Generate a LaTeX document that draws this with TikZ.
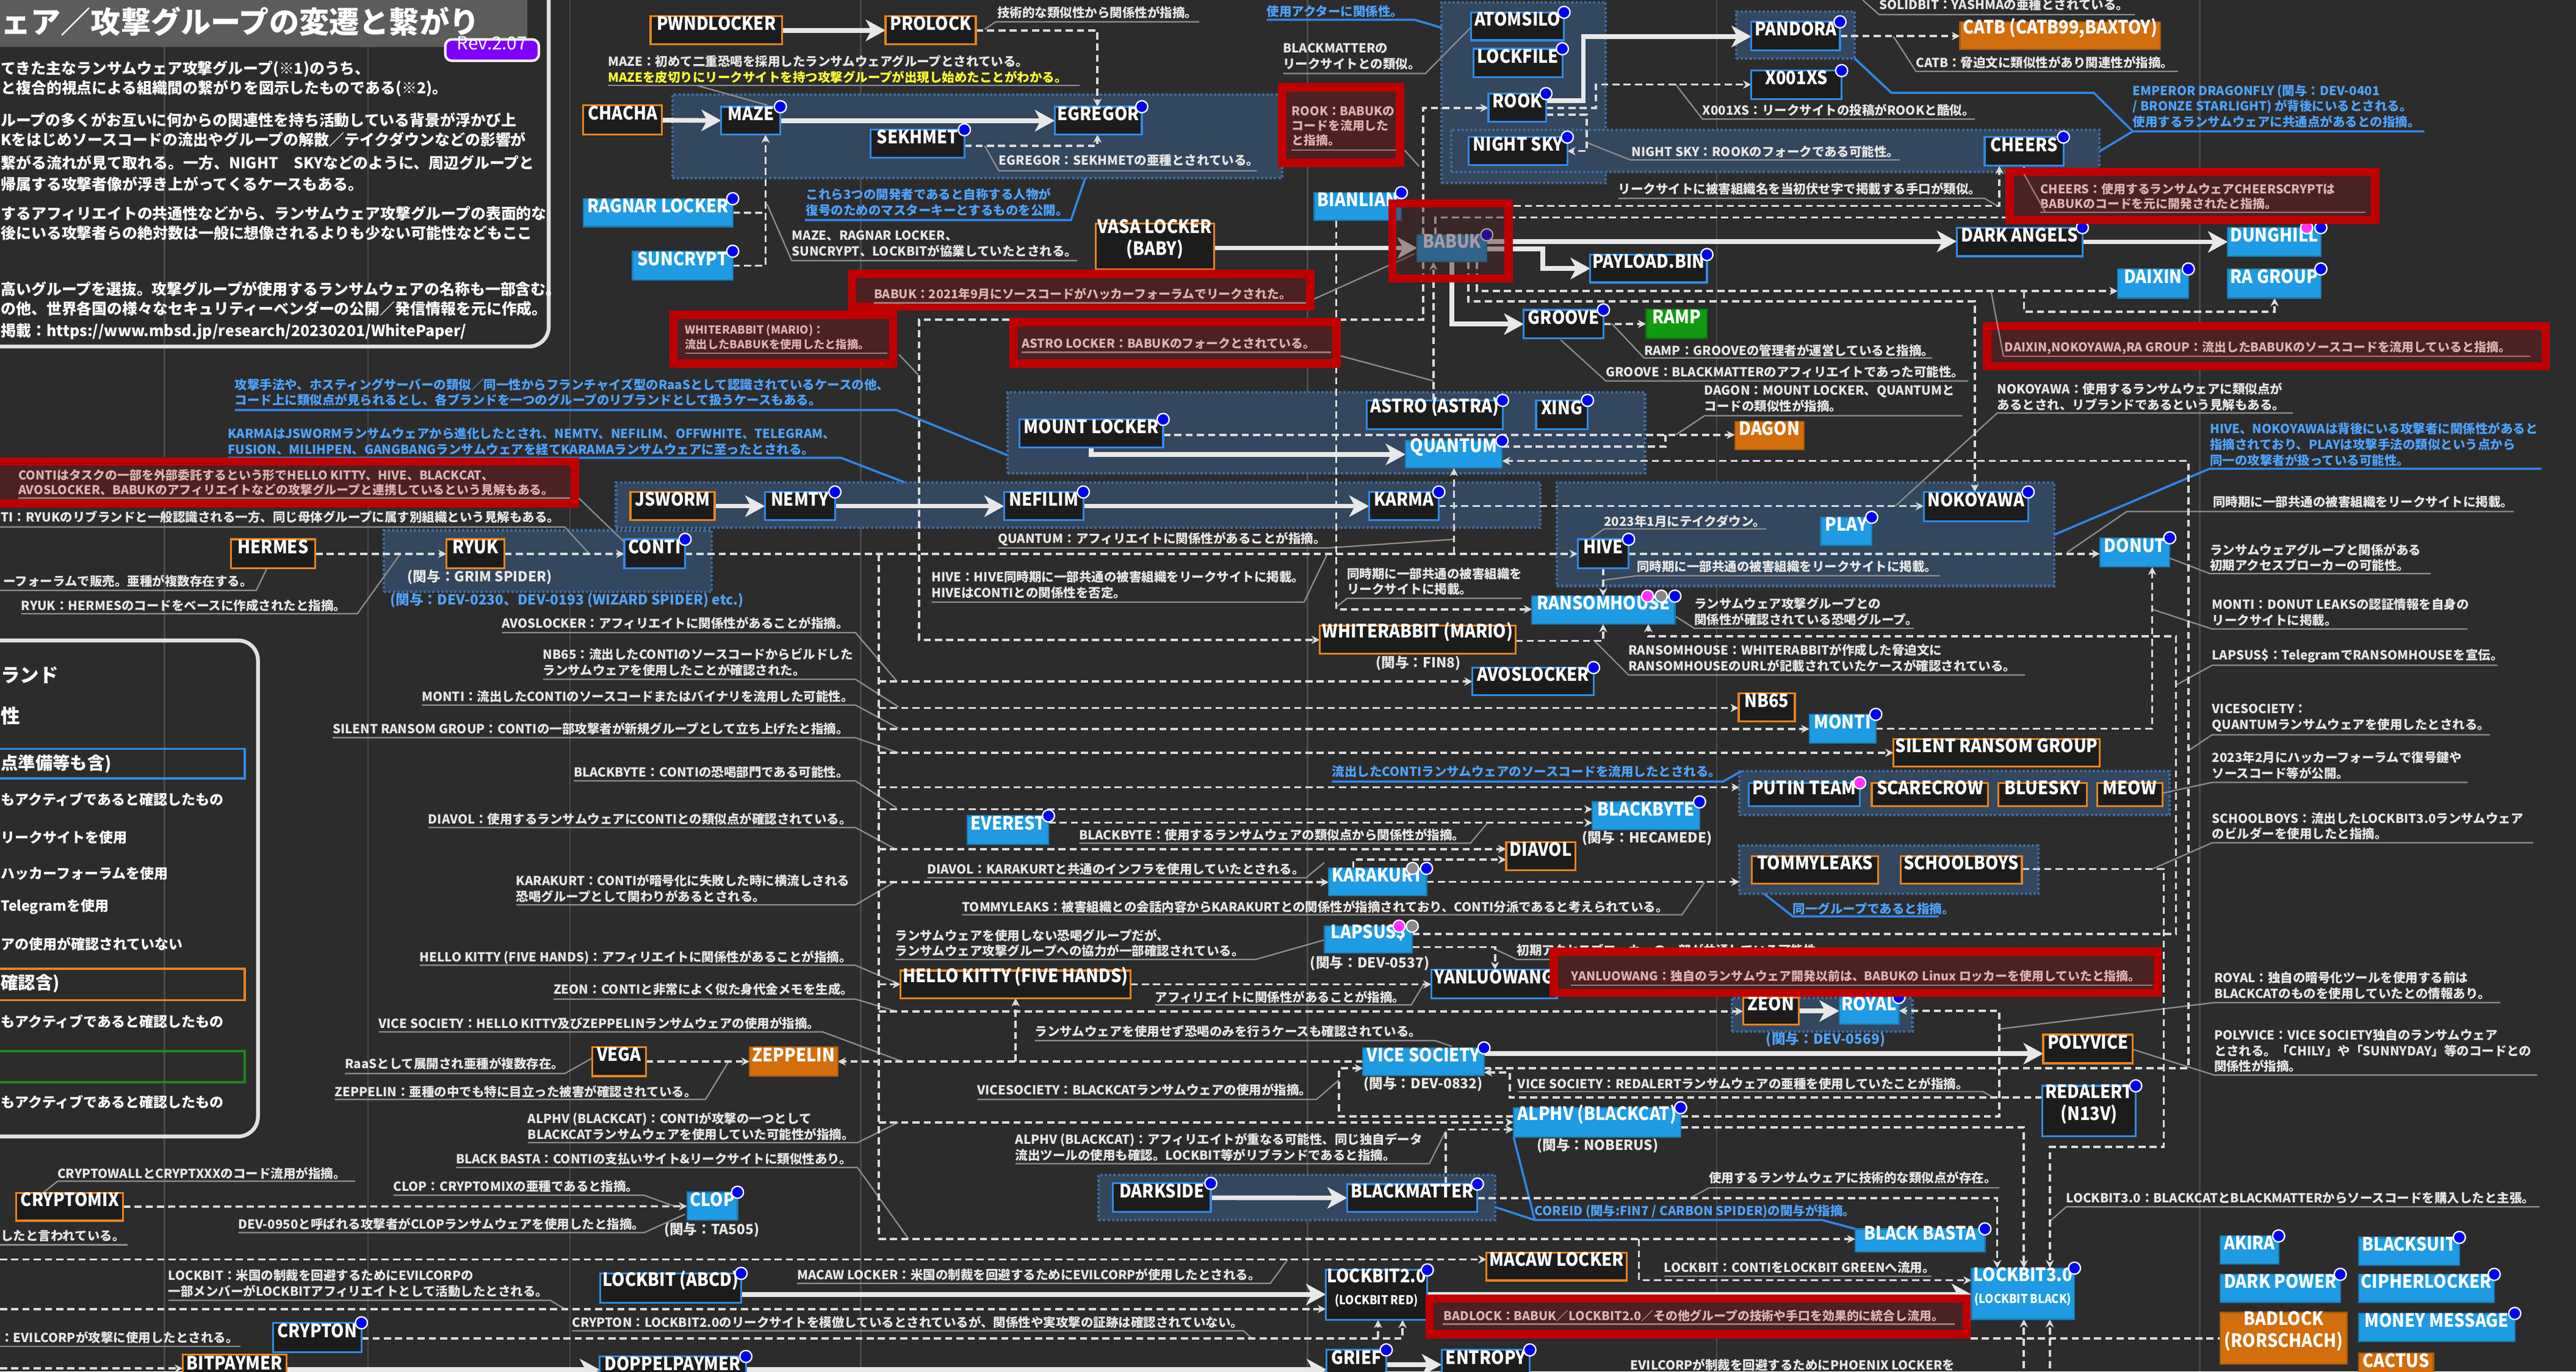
\documentclass[tikz,border=0pt]{standalone}
\usepackage{fontspec}
\setmainfont{Noto Sans CJK JP}
\newfontfamily\nf{Noto Sans CJK JP}[FakeStretch=0.9]
\usetikzlibrary{arrows.meta,fit}
\pgfdeclarelayer{bgl}
\pgfdeclarelayer{lines}
\pgfsetlayers{bgl,lines,main}
\definecolor{bg}{HTML}{2C2C2C}
\definecolor{gridc}{HTML}{4A4A4A}
\definecolor{nodebk}{HTML}{1C1C1C}
\definecolor{blB}{HTML}{2F8BE6}
\definecolor{orB}{HTML}{E8821E}
\definecolor{blF}{HTML}{1E9BE2}
\definecolor{orF}{HTML}{D26E0C}
\definecolor{grF}{HTML}{119A11}
\definecolor{grpF}{HTML}{33475E}
\definecolor{grpD}{HTML}{3E6A9C}
\definecolor{redB}{HTML}{C00000}
\definecolor{redF}{HTML}{4A2222}
\definecolor{redT}{HTML}{E0B0B0}
\definecolor{redU}{HTML}{A07878}
\definecolor{annc}{HTML}{E6E6E6}
\definecolor{ulc}{HTML}{8E8E8E}
\definecolor{bluT}{HTML}{4DA3FF}
\definecolor{bluL}{HTML}{2F86E8}
\definecolor{dashc}{HTML}{DADADA}
\definecolor{thkc}{HTML}{E8E8E8}
\definecolor{dotb}{HTML}{0000F0}
\definecolor{dotm}{HTML}{FF33FF}
\definecolor{dotg}{HTML}{8A8A8A}
\definecolor{yel}{HTML}{FFFF33}
\definecolor{titleg}{HTML}{5C5C5C}
\definecolor{revp}{HTML}{7F00FF}
\definecolor{legG}{HTML}{1A8A1A}
\newcommand{\fA}{\bfseries\fontsize{6.5pt}{8.2pt}\selectfont}
\newcommand{\fR}{\bfseries\fontsize{6.3pt}{7.6pt}\selectfont}
\newcommand{\fN}{\nf\bfseries\fontsize{9.6pt}{11.4pt}\selectfont}
\newcommand{\fNs}{\fontsize{6.4pt}{7pt}\selectfont}
\newcommand{\fS}{\bfseries\fontsize{7.2pt}{8pt}\selectfont}
\newcommand{\fT}{\bfseries\fontsize{7.9pt}{9.6pt}\selectfont}
\newcommand{\fL}{\bfseries\fontsize{7.3pt}{9pt}\selectfont}
\newcommand{\bx}[7]{\node[#6, fit={(#2,#3) (#4,#5)}] (#1) {#7};}
\newcommand{\ndot}[2][dotb]{\fill[#1, draw=white, line width=0.25mm] (#2) circle[radius=1.1mm];}
\tikzset{
 nb/.style={draw=blB, fill=nodebk, line width=0.35mm, text=white, font=\fN, align=center},
 no/.style={draw=orB, fill=nodebk, line width=0.35mm, text=white, font=\fN, align=center},
 fb/.style={draw=blF!80!black, fill=blF, line width=0.25mm, text=white, font=\fN, align=center},
 fo/.style={draw=orF!80!black, fill=orF, line width=0.25mm, text=white, font=\fN, align=center},
 fg/.style={draw=grF!80!black, fill=grF, line width=0.25mm, text=white, font=\fN, align=center},
 grp/.style={fill=grpF, draw=grpD, line width=0.45mm, densely dotted},
 thk/.style={draw=thkc, line width=0.85mm, -{Stealth[length=3.6mm,width=3.9mm,inset=1mm]}},
 dsh/.style={draw=dashc, line width=0.4mm, dash pattern=on 1.3mm off 0.75mm, -{Stealth[length=1.5mm,width=1.5mm]}},
 dshn/.style={draw=dashc, line width=0.4mm, dash pattern=on 1.3mm off 0.75mm},
 ul/.style={draw=ulc, line width=0.25mm},
 ulR/.style={draw=redU, line width=0.25mm},
 blu/.style={draw=bluL, line width=0.4mm},
 ann/.style={anchor=west, text=annc, font=\fA, align=left},
 annB/.style={anchor=west, text=bluT, font=\fA, align=left},
 annR/.style={anchor=west, text=redT, font=\fR, align=left},
 sub/.style={text=annc, font=\fS},
 subB/.style={text=bluT, font=\fS},
 redbox/.style={draw=redB, fill=redF, line width=1.5mm},
 ttl/.style={anchor=west, text=white, font=\fT},
 leg/.style={anchor=west, text=white, font=\fL},
}
\begin{document}
\begin{tikzpicture}[x=0.3mm,y=-0.3mm, every node/.style={inner sep=0pt, outer sep=0pt}]
\useasboundingbox (0,0) rectangle (1568,835.1);
\begin{pgfonlayer}{bgl}
\fill[bg] (0,0) rectangle (1568,835.1);
\foreach \gx in {100,224,347,524,796,1045,1339} \draw[gridc, line width=0.3mm] (\gx,0) -- (\gx,835.1);

% ---------- title box ----------
\fill[titleg] (-20,-20) rectangle (321,28.5);
\draw[white!88!black, line width=0.7mm, rounded corners=3.6mm] (-20,-20) rectangle (334,211);
\node[anchor=west, text=white, font=\bfseries\fontsize{15.6pt}{17pt}\selectfont] (title) at (0.5,13) {ェア／攻撃グループの変遷と繋がり};
\node[fill=revp, draw=white, line width=0.45mm, rounded corners=1.2mm, fit={(271,24) (328,37)}, text=white, font=\fontsize{9.4pt}{10pt}\selectfont] (rev) {Rev.2.07};
\node[ttl] (t1) at (0.5,42) {てきた主なランサムウェア攻撃グループ(※1)のうち、};
\node[ttl] (t2) at (0.5,54) {と複合的視点による組織間の繋がりを図示したものである(※2)。};
\node[ttl] (t3) at (0.5,73) {ループの多くがお互いに何からの関連性を持ち活動している背景が浮かび上};
\node[ttl] (t4) at (0.5,85) {Kをはじめソースコードの流出やグループの解散／テイクダウンなどの影響が};
\node[ttl] (t5) at (0.5,99) {繋がる流れが見て取れる。一方、NIGHT　SKYなどのように、周辺グループと};
\node[ttl] (t6) at (0.5,112) {帰属する攻撃者像が浮き上がってくるケースもある。};
\node[ttl] (t7) at (0.5,130) {するアフィリエイトの共通性などから、ランサムウェア攻撃グループの表面的な};
\node[ttl] (t8) at (0.5,142) {後にいる攻撃者らの絶対数は一般に想像されるよりも少ない可能性などもここ};
\node[ttl] (t9) at (0.5,176) {高いグループを選抜。攻撃グループが使用するランサムウェアの名称も一部含む。};
\node[ttl] (t10) at (0.5,188) {の他、世界各国の様々なセキュリティーベンダーの公開／発信情報を元に作成。};
\node[ttl] (t11) at (0.5,202) {掲載：https://www.mbsd.jp/research/20230201/WhitePaper/};

% ---------- legend ----------
\draw[white!88!black, line width=0.7mm, rounded corners=3.6mm] (-20,390) rectangle (157,692);
\draw[blB, line width=0.4mm] (-5,456) rectangle (149,474);
\draw[orB, line width=0.4mm] (-5,590) rectangle (149,609);
\draw[legG, line width=0.4mm] (-5,640) rectangle (149,659);
\node[anchor=west, text=white, font=\bfseries\fontsize{10pt}{12pt}\selectfont] (l1) at (0.5,411) {ランド};
\node[anchor=west, text=white, font=\bfseries\fontsize{10pt}{12pt}\selectfont] (l2) at (0.5,436) {性};
\node[anchor=west, text=white, font=\bfseries\fontsize{9pt}{10pt}\selectfont] (l3) at (0.5,465) {点準備等も含)};
\node[leg] (l4) at (0.5,487) {もアクティブであると確認したもの};
\node[leg] (l5) at (0.5,510) {リークサイトを使用};
\node[leg] (l6) at (0.5,532) {ハッカーフォーラムを使用};
\node[leg] (l7) at (0.5,552) {Telegramを使用};
\node[leg] (l8) at (0.5,575) {アの使用が確認されていない};
\node[anchor=west, text=white, font=\bfseries\fontsize{9pt}{10pt}\selectfont] (l9) at (0.5,599) {確認含)};
\node[leg] (l10) at (0.5,622) {もアクティブであると確認したもの};
\node[leg] (l11) at (0.5,671) {もアクティブであると確認したもの};

% ---------- groups ----------
\node[grp, fit={(409.4,57.7) (780.6,108.4)}] (gMaze) {};
\node[grp, fit={(877.5,1.4) (977.5,111.5)}] (gAtom) {};
\node[grp, fit={(883.3,79) (1277.7,104.8)}] (gNight) {};
\node[grp, fit={(1056.8,7.1) (1128.8,35.5)}] (gPandora) {};
\node[grp, fit={(613.2,239) (1001.3,288.4)}] (gMount) {};
\node[grp, fit={(375,293.7) (937.5,321.2)}] (gJsworm) {};
\node[grp, fit={(233.75,323) (433.2,360.4)}] (gConti) {};
\node[grp, fit={(947.5,293.7) (1250.2,356.8)}] (gHive) {};
\node[grp, fit={(1058.8,469.6) (1320.7,496.3)}] (gPutin) {};
\node[grp, fit={(1058.8,515) (1240.7,544.3)}] (gTommy) {};
\node[grp, fit={(1054.2,607.8) (1164,628.3)}] (gZeon) {};
\node[grp, fit={(668.7,715.4) (910,742.9)}] (gDark) {};
\end{pgfonlayer}

% ---------- nodes ----------
\bx{pwnd}{396}{10}{476}{27}{no}{PWNDLOCKER}
\bx{prolock}{539}{10}{594}{27}{no}{PROLOCK}
\bx{chacha}{355}{64}{403}{82}{no}{CHACHA}
\bx{maze}{439}{65}{475}{82}{nb}{MAZE}
\bx{egregor}{642}{65}{695}{82}{nb}{EGREGOR}
\bx{sekhmet}{530}{79}{587}{96}{nb}{SEKHMET}
\bx{ragnar}{355}{121}{446}{138}{fb}{RAGNAR LOCKER}
\bx{suncrypt}{385}{153}{446}{170.5}{fb}{SUNCRYPT}
\bx{vasa}{667}{136}{739}{164}{no}{VASA LOCKER\\(BABY)}
\bx{atomsilo}{895.5}{7.5}{952}{24.5}{nb}{ATOMSILO}
\bx{lockfile}{897}{29.7}{951}{47}{nb}{LOCKFILE}
\bx{rook}{906}{57}{941}{74}{nb}{ROOK}
\bx{nightsky}{894}{83.5}{954}{100.5}{nb}{NIGHT SKY}
\bx{pandora}{1066}{13.3}{1120}{30.6}{nb}{PANDORA}
\bx{x001xs}{1066}{43}{1121}{60.4}{nb}{X001XS}
\bx{catb}{1193}{13.3}{1315}{30.2}{fo}{CATB (CATB99,BAXTOY)}
\bx{cheers}{1208}{83.5}{1256}{101}{nb}{CHEERS}
\bx{bianlian}{800}{117.3}{853}{134.2}{fb}{BIANLIAN}
\bx{babuk}{862.6}{143}{905}{159.5}{fb}{BABUK}
\bx{payload}{968}{155}{1039}{172}{nb}{PAYLOAD.BIN}
\bx{darkang}{1191}{138.6}{1267.5}{156}{nb}{DARK ANGELS}
\bx{dunghill}{1356}{138.6}{1412.7}{156}{fb}{DUNGHILL}
\bx{daixin}{1289}{163.8}{1332}{181.5}{fb}{DAIXIN}
\bx{ragroup}{1356}{163.8}{1412.7}{181.5}{fb}{RA GROUP}
\bx{groove}{927.5}{188.7}{976}{206}{nb}{GROOVE}
\bx{ramp}{1002}{188.4}{1039}{206}{fg}{RAMP}
\bx{mount}{620.6}{255.4}{708}{272.6}{nb}{MOUNT LOCKER}
\bx{astro}{832}{243.8}{914.6}{261.3}{nb}{ASTRO (ASTRA)}
\bx{xing}{935}{243.8}{966.3}{261.3}{nb}{XING}
\bx{quantum}{855.5}{268.4}{914.3}{285}{fb}{QUANTUM}
\bx{dagon}{1056}{256.8}{1098}{273.7}{fo}{DAGON}
\bx{jsworm}{383.75}{299.6}{435}{316.8}{no}{JSWORM}
\bx{nemty}{465.6}{299.6}{508.2}{316.8}{nb}{NEMTY}
\bx{nefilim}{611.2}{299.6}{659.4}{316.8}{nb}{NEFILIM}
\bx{karma}{833.3}{299.6}{875.8}{316.8}{nb}{KARMA}
\bx{nokoyawa}{1171}{299.6}{1234.5}{317.3}{nb}{NOKOYAWA}
\bx{play}{1108.3}{315}{1139.3}{332}{fb}{PLAY}
\bx{hive}{960.3}{328.4}{991.3}{346.1}{nb}{HIVE}
\bx{donut}{1278.2}{327.5}{1320.7}{345.2}{fb}{DONUT}
\bx{hermes}{140.5}{328.4}{192}{346.1}{no}{HERMES}
\bx{ryuk}{271.75}{328.4}{307}{346.1}{no}{RYUK}
\bx{conti}{380}{328.4}{417}{346.1}{nb}{CONTI}
\bx{rh}{932.5}{363}{1019.5}{380}{fb}{RANSOMHOUSE}
\bx{wr}{803.3}{380.8}{922.5}{398}{no}{WHITERABBIT (MARIO)}
\bx{avos}{896.3}{406.5}{970}{423.4}{nb}{AVOSLOCKER}
\bx{nb65}{1058.3}{422.2}{1092.5}{439.4}{no}{NB65}
\bx{monti}{1101.3}{435}{1141.8}{452.4}{fb}{MONTI}
\bx{silent}{1152.5}{450}{1278.2}{466.6}{no}{SILENT RANSOM GROUP}
\bx{putin}{1064.3}{476.7}{1132}{491}{nb}{PUTIN TEAM}
\bx{scarecrow}{1139.3}{476.7}{1210.2}{491}{no}{SCARECROW}
\bx{bluesky}{1216.5}{476.7}{1270.2}{491}{no}{BLUESKY}
\bx{meow}{1276.5}{476.7}{1316.2}{491}{no}{MEOW}
\bx{blackbyte}{969.3}{488.3}{1034.5}{505.2}{fb}{BLACKBYTE}
\bx{everest}{588.9}{496.8}{638.2}{514}{fb}{EVEREST}
\bx{diavol}{916.8}{512.8}{958.8}{530}{no}{DIAVOL}
\bx{karakurt}{808.8}{528.8}{868.3}{545.2}{fb}{KARAKURT}
\bx{tommy}{1066.3}{521.2}{1143.3}{538}{no}{TOMMYLEAKS}
\bx{schoolboys}{1156.8}{521.2}{1230.7}{538}{no}{SCHOOLBOYS}
\bx{lapsus}{806.3}{564}{859.6}{580.3}{fb}{LAPSUS\$}
\bx{hellokitty}{548.2}{591}{688.2}{607.8}{no}{HELLO KITTY (FIVE HANDS)}
\bx{yanluowang}{871.3}{590.6}{947.6}{607.8}{nb}{YANLUOWANG}
\bx{zeon}{1061}{607.4}{1095}{623.8}{no}{ZEON}
\bx{royal}{1119.5}{607.4}{1155.8}{623.8}{fb}{ROYAL}
\bx{vega}{360.5}{637.5}{393.2}{655.3}{no}{VEGA}
\bx{zeppelin}{456.2}{637.5}{509.9}{655.3}{fo}{ZEPPELIN}
\bx{vice}{829.6}{638.1}{903.3}{654.9}{fb}{VICE SOCIETY}
\bx{polyvice}{1243.7}{630}{1298.2}{647.5}{no}{POLYVICE}
\bx{redalert}{1243.2}{661.2}{1300}{691.9}{nb}{REDALERT\\(N13V)}
\bx{alphv}{921.3}{674.5}{1023}{692.4}{fb}{ALPHV (BLACKCAT)}
\bx{darkside}{677.5}{720.6}{737}{738}{nb}{DARKSIDE}
\bx{blackmatter}{820}{721}{899.3}{738}{nb}{BLACKMATTER}
\bx{cryptomix}{10}{726.3}{75}{743.3}{no}{CRYPTOMIX}
\bx{clop}{418.2}{726}{448.9}{743}{fb}{CLOP}
\bx{blackbasta}{1129.3}{748.3}{1208.2}{762.2}{fb}{BLACK BASTA}
\bx{macaw}{904.8}{762.8}{990.3}{779.7}{no}{MACAW LOCKER}
\bx{lbabcd}{365.5}{775.4}{451.1}{793.2}{nb}{LOCKBIT (ABCD)}
\bx{lb2}{807}{773.3}{868.8}{803.7}{nb}{LOCKBIT2.0\\{\fNs (LOCKBIT RED)}}
\bx{lb3}{1200}{772.2}{1262.7}{803.3}{fb}{LOCKBIT3.0\\{\fNs (LOCKBIT BLACK)}}
\bx{akira}{1351.5}{752.6}{1387}{769.6}{fb}{AKIRA}
\bx{blacksuit}{1435.7}{753.5}{1497}{770.4}{fb}{BLACKSUIT}
\bx{darkpower}{1351.5}{776}{1424.5}{793}{fb}{DARK POWER}
\bx{cipher}{1435.7}{776}{1518.2}{793}{fb}{CIPHERLOCKER}
\bx{badlockR}{1351.5}{799.2}{1428.7}{830.5}{fo}{BADLOCK\\(RORSCHACH)}
\bx{money}{1435.7}{799.8}{1530.7}{817}{fb}{MONEY MESSAGE}
\bx{cactus}{1435.7}{823.8}{1481.2}{842}{fo}{CACTUS}
\bx{crypton}{166.25}{805.5}{220}{823.3}{nb}{CRYPTON}
\bx{bitpay}{111.25}{825}{174.25}{843}{no}{BITPAYMER}
\bx{doppel}{365}{826}{454}{843}{nb}{DOPPELPAYMER}
\bx{grief}{807.5}{822}{843.8}{840}{nb}{GRIEF}
\bx{entropy}{877.5}{822}{931.2}{840}{nb}{ENTROPY}

\begin{pgfonlayer}{lines}
% ---------- blue annotation lines ----------
\draw[blu] (490,134) -- (651.9,134) -- (660.6,108.4);
\draw[blu] (771,12) -- (861,12) -- (877.5,16.9);
\draw[blu] (1128.8,35.5) -- (1151.3,56.5) -- (1274.5,56.5) -- (1298.2,80) -- (1475.7,80);
\draw[blu] (1298.2,80) -- (1278.2,92);
\draw[blu] (143,249.7) -- (545.7,249.7) -- (613.2,277.2);
\draw[blu] (138.75,278.8) -- (512,278.8) -- (550.6,293.7);
\draw[blu] (1547,285.4) -- (1345,285.4) -- (1250.2,325.7);
\draw[blu] (810.8,475.9) -- (1048.8,475.9) -- (1060,469.6);
\draw[blu] (1180,558) -- (1091.3,558) -- (1073.8,544.3);
\draw[blu] (910,735) -- (934.2,742.9) -- (1109.1,742.9) -- (1129.3,748.3);
\draw[blu] (934.2,742.9) -- (921.3,692.4);

% ---------- underlines and leaders ----------
\draw[ul] (599.4,17.8) -- (606,13.3) -- (730,13.3);
\draw[ul] (370,52) -- (657,52);
\draw[ul] (424,52) -- (467,64);
\draw[ul] (599.4,88.8) -- (608,104) -- (765,104);
\draw[ul] (466.9,124.3) -- (481.9,158.7) -- (655.6,158.7);
\draw[ul] (781,44.8) -- (867.6,44.8) -- (895,17);
\draw[ul] (1133.8,0) -- (1143.8,8.9) -- (1299.5,8.9);
\draw[ul] (1152.5,22.2) -- (1166.3,43.5) -- (1325.7,43.5);
\draw[ul] (1020,51.5) -- (1036.3,72.5) -- (1202,72.5);
\draw[ul] (966.3,87) -- (992.5,97.4) -- (1156.3,97.4);
\draw[ul] (985,120.8) -- (1208,120.8) -- (1215.7,125.3);
\draw[ul] (981,197) -- (1000.8,218) -- (1176,218);
\draw[ul] (950,207) -- (977.5,232) -- (1198,232);
\draw[ul] (1020,264.8) -- (1037.5,253.2) -- (1194.5,253.2);
\draw[ul] (1153.8,308) -- (1215.7,251.5) -- (1395.7,251.5);
\draw[ul] (0,320.9) -- (343.75,320.9) -- (358.75,337.2);
\draw[ul] (0,359.5) -- (156,359.5) -- (162.5,346);
\draw[ul] (13,373.7) -- (217.5,373.7) -- (243.75,337.2);
\draw[ul] (305.5,385.2) -- (520.7,385.2) -- (545.7,414.5);
\draw[ul] (330.5,413.6) -- (520.7,413.6) -- (547,430.5);
\draw[ul] (256.75,429.3) -- (520.7,429.3) -- (547,443.5);
\draw[ul] (202.5,449.2) -- (520.7,449.2) -- (547,458.4);
\draw[ul] (349.25,475.5) -- (520.7,475.5) -- (545.7,491.9);
\draw[ul] (260.75,503.9) -- (520.7,503.9) -- (544.4,516.7);
\draw[ul] (314.25,551) -- (520.7,551) -- (544.4,537.2);
\draw[ul] (607.4,333.7) -- (807.5,333.7) -- (885,328.4);
\draw[ul] (567,366.6) -- (793.8,366.6) -- (807.5,338.1);
\draw[ul] (967.5,328.4) -- (976.3,322.1) -- (1075,322.1);
\draw[ul] (976.3,353.2) -- (996.3,350.6) -- (1180.7,350.6);
\draw[ul] (813.8,369.2) -- (820,364.3) -- (926.3,364.3);
\draw[ul] (1020,375.4) -- (1031.3,382.6) -- (1165,382.6);
\draw[ul] (970,389.7) -- (991.3,411) -- (1232.7,411);
\draw[ul] (656.9,513.5) -- (895,513.5) -- (905,501.6);
\draw[ul] (564.4,534.5) -- (795,534.5) -- (806,525.3);
\draw[ul] (585.6,557) -- (1023.8,557) -- (1037.5,537.2);
\draw[ul] (1258.2,336.4) -- (1294.5,311.5) -- (1530.2,311.5);
\draw[ul] (1320.7,339.9) -- (1345.2,349.3) -- (1479.5,349.3);
\draw[ul] (1310,371) -- (1346.5,383) -- (1502,383);
\draw[ul] (1324.5,417.2) -- (1346.5,405.1) -- (1520.2,405.1);
\draw[ul] (1331.9,457.2) -- (1346.5,447.4) -- (1515.7,447.4);
\draw[ul] (1316.2,483) -- (1346.5,476.4) -- (1502,476.4);
\draw[ul] (1310,529.2) -- (1346.5,513.2) -- (1542,513.2);
\draw[ul] (255.5,587.8) -- (520.7,587.8) -- (546.9,599);
\draw[ul] (337,608.4) -- (520.7,608.4) -- (545.7,615.8);
\draw[ul] (230.5,628.3) -- (500.6,628.3) -- (548.2,646);
\draw[ul] (210,653.7) -- (343.75,653.7) -- (360,644.6);
\draw[ul] (203.75,669.5) -- (429.4,669.5) -- (443.2,646.9);
\draw[ul] (321.25,695.8) -- (521.9,695.8) -- (546.9,683.4);
\draw[ul] (277.5,710.9) -- (521.9,710.9) -- (553.1,754.5);
\draw[ul] (239.5,727.8) -- (392,727.8) -- (410.6,734.5);
\draw[ul] (26.25,726.3) -- (35,719.3) -- (216.25,719.3);
\draw[ul] (145,750.6) -- (392,750.6) -- (416.9,739.4);
\draw[ul] (0,758) -- (77.5,758);
\draw[ul] (102.5,791.8) -- (335,791.8) -- (343.75,797.1);
\draw[ul] (348.25,810.4) -- (757,810.4) -- (762,815);
\draw[ul] (0,819.8) -- (146.25,819.8);
\draw[ul] (544.9,584.2) -- (764.4,584.2) -- (806.3,572.3);
\draw[ul] (703.1,611.9) -- (859,611.9) -- (866.3,599.8);
\draw[ul] (629.9,633.6) -- (873.3,633.6) -- (883.8,637.2);
\draw[ul] (594.9,669.5) -- (801.3,669.5) -- (815,657.6);
\draw[ul] (618.1,708.6) -- (870,708.6) -- (880,688.7);
\draw[ul] (485.2,781.5) -- (773.2,781.5) -- (783.8,766.9);
\draw[ul] (910,578) -- (923.3,584.2) -- (1117,584.2);
\draw[ul] (923.8,664.7) -- (1207,664.7) -- (1213.2,668.3);
\draw[ul] (1029.4,729.2) -- (1040.3,723.3) -- (1217,723.3);
\draw[ul] (1012.9,777.2) -- (1175.7,777.2);
\draw[ul] (1217.7,626.5) -- (1347.7,610.5) -- (1522,610.5);
\draw[ul] (1298.2,639) -- (1347.7,654.6) -- (1544.4,654.6);
\draw[ul] (1247.7,743.7) -- (1257.7,734.9) -- (1545.7,734.9);

% ---------- dashed connectors ----------
\draw[dsh] (prolock.east) -| (egregor.north -| 668,0);
\draw[dsh] (sekhmet.east |- 0,88.8) -| (egregor.south -| 668,0);
\draw[dshn] (ragnar.east) -- (466,129.6);
\draw[dsh] (suncrypt.east) -| (maze.south -| 466,0);
\draw[dsh] (rook.east |- 0,65.7) -| (971.3,51.5) -- (x001xs.west |- 0,51.5);
\draw[dsh] (rook.east |- 0,69.8) -| (965.8,92) -- (nightsky.east |- 0,92);
\draw[dsh] (babuk.north -| 866.3,0) -- (866.3,65.7) -- (rook.west |- 0,65.7);
\draw[dsh] (babuk.south -| 866.3,0) -- (866.3,194.6) -| (559.4,389.6) -- (wr.west |- 0,389.6);
\draw[dsh] (bianlian.east |- 0,125.3) -| (cheers.south -| 1217,0);
\draw[dsh] (babuk.north -| 873.8,0) |- (1232,132.4) -- (cheers.south -| 1232,0);
\draw[dsh] (babuk.south -| 899,0) |- (daixin.west |- 0,177.2);
\draw[dsh] (1232,177.2) |- (1384.5,189.8) -- (ragroup.south -| 1384.5,0);
\draw[dsh] (babuk.south -| 893.8,0) |- (1202,183.6) -- (nokoyawa.north -| 1202,0);
\draw[dsh] (bianlian.south -| 813.3,0) |- (rh.west |- 0,371);
\draw[dsh] (astro.north -| 872.5,0) -- (babuk.south -| 872.5,0);
\draw[dsh] (mount.east |- 0,264.8) -- (dagon.west |- 0,264.8);
\draw[dshn] (quantum.east |- 0,272) -| (1013.8,264.8);
\draw[dsh] (conti) -- (hive);
\draw[dsh] (885,337.25) -- (quantum.south -| 885,0);
\draw[dshn] (534.9,337.25) -- (534.9,754.5);
\draw[dsh] (534.9,415) -- (avos.west |- 0,415);
\draw[dsh] (534.9,431.1) -- (nb65.west |- 0,431.1);
\draw[dsh] (534.9,443.9) -- (monti.west |- 0,443.9);
\draw[dsh] (534.9,458.4) -- (silent.west |- 0,458.4);
\draw[dsh] (534.9,479.4) -- (gPutin.west |- 0,479.4);
\draw[dsh] (534.9,492.8) -- (blackbyte.west |- 0,492.8);
\draw[dsh] (534.9,517) -- (diavol.west |- 0,517);
\draw[dsh] (534.9,537.2) -- (karakurt.west |- 0,537.2);
\draw[dsh] (534.9,599.4) -- (hellokitty.west |- 0,599.4);
\draw[dsh] (534.9,615.8) -- (zeon.west |- 0,615.8);
\draw[dsh] (534.9,683.4) -- (alphv.west |- 0,683.4);
\draw[dsh] (534.9,754.5) -- (blackbasta.west |- 0,754.5);
\draw[dsh] (hive.south) -- (rh.north -| hive.south);
\draw[dsh] (karma) -- (nokoyawa.west |- karma);
\draw[dsh] (hive) -- (donut.west |- hive);
\draw[dsh] (wr.east |- 0,390.2) -| (rh.south -| 975.8,0);
\draw[dsh] (lapsus.east |- 0,568.8) -| (1324.5,387.4) -| (rh.south -| 1003.3,0);
\draw[dsh] (monti.east) -| (donut.south -| 1310,0);
\draw[dsh] (vice.east |- 0,650.5) -| (1332,280.7) -- (quantum.east |- 0,280.7);
\draw[dsh] (schoolboys.east |- 0,529.2) -| (1317,698.4) -| (lb3.north -| 1247.7,0);
\draw[dsh] (everest.east |- 0,501) -- (blackbyte.west |- 0,501);
\draw[dsh] (karakurt.north -| 823.8,0) |- (diavol.west |- 0,523.5);
\draw[dsh] (karakurt.east) -- (gTommy.west |- karakurt.east);
\draw[dsh] (hermes) -- (ryuk);
\draw[dsh] (ryuk) -- (conti);
\draw[dsh] (pandora.east) -- (catb.west |- pandora.east);
\draw[dsh] (groove) -- (ramp);
\draw[dsh] (cryptomix) -- (clop);
\draw[dsh] (lapsus.east |- 0,576.7) -| (yanluowang.north -| 910,0);
\draw[dsh] (hellokitty) -- (yanluowang.west |- hellokitty);
\draw[dsh] (vega) -- (zeppelin);
\draw[dsh] (vice.west |- 0,646.4) -- (zeppelin.east |- 0,646.4);
\draw[dsh] (618.2,646.4) -- (hellokitty.south -| 618.2,0);
\draw[dsh] (alphv.west |- 0,679.7) -| (815,650.5) -- (vice.west |- 0,650.5);
\draw[dsh] (alphv.east |- 0,679.7) -| (1217,615.5) -- (royal.east |- 0,615.5);
\draw[dsh] (alphv.east |- 0,686.5) -| (lb3.north -| 1231.9,0);
\draw[dsh] (redalert.west |- 0,668.3) -| (919,653) -- (vice.east |- 0,653);
\draw[dsh] (blackmatter.north -| 880,0) |- (alphv.west |- 0,687.8);
\draw[dsh] (blackmatter.east) -| (lb3.north -| 1215.7,0);
\draw[dsh] (997.6,754.5) |- (lb3.west |- 0,779.6);
\coordinate (evil1) at (0,766.9);
\coordinate (evil2) at (0,797.1);
\coordinate (evil3) at (0,833.3);
\coordinate (lb3in1) at (1231.9,840);
\coordinate (lb3in2) at (1247.7,840);
\draw[dsh] (evil1) -- (macaw.west |- evil1);
\draw[dsh] (evil2) -- (lb2.west |- evil2);
\draw[dsh] (evil3) -- (bitpay.west |- evil3);
\draw[dsh] (crypton.east |- 0,815) -| (lb2.south -| 853.7,0);
\draw[dsh] (838.8,815) -- (lb2.south -| 838.8,0);
\draw[dshn] (1199.5,814.9) -- (badlockR.west |- 0,814.9);
\draw[dsh] (lb3in1) -- (lb3.south -| lb3in1);
\draw[dsh] (lb3in2) -- (lb3.south -| lb3in2);

% ---------- thick connectors ----------
\draw[thk] (pwnd) -- (prolock);
\draw[thk] (chacha) -- (maze);
\draw[thk] (maze) -- (egregor);
\draw[thk] (vasa.east |- 0,151) -- (babuk.west |- 0,151);
\draw[thk] (babuk.east |- 0,147) -- (darkang.west |- 0,147);
\draw[thk] (darkang) -- (dunghill);
\draw[thk] (babuk.east |- 0,151.5) -- (939,151.5) |- (payload.west);
\draw[thk] (babuk.south) |- (groove.west);
\draw[thk] (rook.east |- 0,61.3) -| (963.8,22.2) -- (pandora.west |- 0,22.2);
\draw[thk] (mount.south) |- (quantum.west);
\draw[thk] (jsworm) -- (nemty);
\draw[thk] (nemty) -- (nefilim);
\draw[thk] (nefilim) -- (karma);
\draw[thk] (zeon) -- (royal);
\draw[thk] (vice.east |- 0,641.6) -- (polyvice.west |- 0,641.6);
\draw[thk] (darkside) -- (blackmatter);
\draw[thk] (lbabcd.east |- 0,788.2) -- (lb2.west |- 0,788.2);
\draw[thk] (lb2.east |- 0,788.2) -- (lb3.west |- 0,788.2);
\draw[thk] (bitpay.east |- 0,834) -- (doppel.west |- 0,834);
\draw[thk] (doppel.east |- 0,834) -- (grief.west |- 0,834);
\draw[thk] (grief) -- (entropy);
\end{pgfonlayer}

% ---------- dots ----------
\ndot{maze.north east} \ndot{egregor.north east} \ndot{sekhmet.north east}
\ndot{ragnar.north east} \ndot{suncrypt.north east} \ndot{atomsilo.north east}
\ndot{lockfile.north east} \ndot{rook.north east} \ndot{nightsky.north east}
\ndot{pandora.north east} \ndot{x001xs.north east} \ndot{cheers.north east}
\ndot{bianlian.north east} \ndot{babuk.north east} \ndot{payload.north east} \ndot{darkang.north east}
\ndot[dotm]{[xshift=-2.6mm]dunghill.north east} \ndot{dunghill.north east}
\ndot{daixin.north east} \ndot{ragroup.north east} \ndot{groove.north east}
\ndot{mount.north east} \ndot{astro.north east} \ndot{xing.north east} \ndot{quantum.north east}
\ndot{nemty.north east} \ndot{nefilim.north east} \ndot{karma.north east} \ndot{nokoyawa.north east}
\ndot{play.north east} \ndot{hive.north east} \ndot{donut.north east} \ndot{conti.north east}
\ndot[dotm]{[xshift=-5mm]rh.north east} \ndot[dotg]{[xshift=-2.5mm]rh.north east} \ndot{rh.north east}
\ndot{avos.north east} \ndot{monti.north east} \ndot[dotm]{putin.north east}
\ndot{blackbyte.north east} \ndot{everest.north east}
\ndot[dotg]{[xshift=-2.55mm]karakurt.north east} \ndot{karakurt.north east}
\ndot[dotm]{[xshift=-2.4mm]lapsus.north east} \ndot[dotg]{lapsus.north east}
\ndot{yanluowang.north east} \ndot{royal.north east} \ndot{vice.north east} \ndot{redalert.north east}
\ndot{alphv.north east} \ndot{darkside.north east} \ndot{blackmatter.north east} \ndot{clop.north east}
\ndot{blackbasta.north east} \ndot{lbabcd.north east} \ndot{lb2.north east} \ndot{lb3.north east}
\ndot{akira.north east} \ndot{blacksuit.north east} \ndot{darkpower.north east} \ndot{cipher.north east}
\ndot{money.north east} \ndot{crypton.north east} \ndot{grief.north east} \ndot{entropy.north east}
\ndot{doppel.north east}

% ---------- annotation texts ----------
\node[ann] (a1) at (607,7.5) {技術的な類似性から関係性が指摘。};
\node[ann] (a2) at (370,37.3) {MAZE：初めて二重恐喝を採用したランサムウェアグループとされている。};
\node[ann, text=yel] (a3) at (370,47) {MAZEを皮切りにリークサイトを持つ攻撃グループが出現し始めたことがわかる。};
\node[ann] (a4) at (608,97.7) {EGREGOR：SEKHMETの亜種とされている。};
\node[annB] (a5) at (490.6,123) {これら3つの開発者であると自称する人物が\\復号のためのマスターキーとするものを公開。};
\node[ann] (a6) at (482,148.5) {MAZE、RAGNAR LOCKER、\\SUNCRYPT、LOCKBITが協業していたとされる。};
\node[annB] (a7) at (771,7.1) {使用アクターに関係性。};
\node[ann] (a8) at (781,34.6) {BLACKMATTERの\\リークサイトとの類似。};
\node[ann] (a9) at (1143.8,2.9) {SOLIDBIT：YASHMAの亜種とされている。};
\node[ann] (a10) at (1166.3,38.2) {CATB：脅迫文に類似性があり関連性が指摘。};
\node[ann] (a11) at (1036.3,67.1) {X001XS：リークサイトの投稿がROOKと酷似。};
\node[ann] (a12) at (993.3,92.4) {NIGHT SKY：ROOKのフォークである可能性。};
\node[ann] (a13) at (985,115.1) {リークサイトに被害組織名を当初伏せ字で掲載する手口が類似。};
\node[annB] (a14) at (1298.2,64.7) {EMPEROR DRAGONFLY (関与：DEV-0401\\ / BRONZE STARLIGHT) が背後にいるとされる。\\使用するランサムウェアに共通点があるとの指摘。};
\node[ann] (a15) at (1000.8,213.6) {RAMP：GROOVEの管理者が運営していると指摘。};
\node[ann] (a16) at (977.5,226.6) {GROOVE：BLACKMATTERのアフィリエイトであった可能性。};
\node[ann] (a17) at (1037.5,242.8) {DAGON：MOUNT LOCKER、QUANTUMと\\コードの類似性が指摘。};
\node[ann] (a19) at (1215.7,241.5) {NOKOYAWA：使用するランサムウェアに類似点が\\あるとされ、リブランドであるという見解もある。};
\node[annB] (a20) at (1345.2,270.5) {HIVE、NOKOYAWAは背後にいる攻撃者に関係性があると\\指摘されており、PLAYは攻撃手法の類似という点から\\同一の攻撃者が扱っている可能性。};
\node[annB] (a21) at (143,238.9) {攻撃手法や、ホスティングサーバーの類似／同一性からフランチャイズ型のRaaSとして認識されているケースの他、\\コード上に類似点が見られるとし、各ブランドを一つのグループのリブランドとして扱うケースもある。};
\node[annB] (a22) at (138.75,268.9) {KARMAはJSWORMランサムウェアから進化したとされ、NEMTY、NEFILIM、OFFWHITE、TELEGRAM、\\FUSION、MILIHPEN、GANGBANGランサムウェアを経てKARAMAランサムウェアに至ったとされる。};
\node[ann] (a23) at (0.5,315) {TI：RYUKのリブランドと一般認識される一方、同じ母体グループに属す別組織という見解もある。};
\node[subB, anchor=west] (a24) at (237.5,365.7) {(関与：DEV-0230、DEV-0193 (WIZARD SPIDER) etc.)};
\node[sub] (a25) at (292,351.5) {(関与：GRIM SPIDER)};
\node[ann] (a26) at (2,354) {ーフォーラムで販売。亜種が複数存在する。};
\node[ann] (a27) at (13,368.9) {RYUK：HERMESのコードをベースに作成されたと指摘。};
\node[ann] (a28) at (305.5,379.5) {AVOSLOCKER：アフィリエイトに関係性があることが指摘。};
\node[ann] (a29) at (330.5,403.2) {NB65：流出したCONTIのソースコードからビルドした\\ランサムウェアを使用したことが確認された。};
\node[ann] (a30) at (256.75,424) {MONTI：流出したCONTIのソースコードまたはバイナリを流用した可能性。};
\node[ann] (a31) at (202.5,443.9) {SILENT RANSOM GROUP：CONTIの一部攻撃者が新規グループとして立ち上げたと指摘。};
\node[ann] (a32) at (349.25,470.2) {BLACKBYTE：CONTIの恐喝部門である可能性。};
\node[ann] (a33) at (260.75,498.6) {DIAVOL：使用するランサムウェアにCONTIとの類似点が確認されている。};
\node[ann] (a34) at (314.25,541) {KARAKURT：CONTIが暗号化に失敗した時に横流しされる\\恐喝グループとして関わりがあるとされる。};
\node[ann] (a35) at (607.4,328.4) {QUANTUM：アフィリエイトに関係性があることが指摘。};
\node[ann] (a36) at (567,356.3) {HIVE：HIVE同時期に一部共通の被害組織をリークサイトに掲載。\\HIVEはCONTIとの関係性を否定。};
\node[ann] (a37) at (976.3,317.3) {2023年1月にテイクダウン。};
\node[ann] (a38) at (996.3,345.2) {同時期に一部共通の被害組織をリークサイトに掲載。};
\node[ann] (a39) at (820,354.1) {同時期に一部共通の被害組織を\\リークサイトに掲載。};
\node[ann] (a40) at (1031.3,372.3) {ランサムウェア攻撃グループとの\\関係性が確認されている恐喝グループ。};
\node[sub] (a41) at (863.3,403.9) {(関与：FIN8)};
\node[ann] (a42) at (991.3,400.6) {RANSOMHOUSE：WHITERABBITが作成した脅迫文に\\RANSOMHOUSEのURLが記載されていたケースが確認されている。};
\node[annB] (a43) at (810.8,470) {流出したCONTIランサムウェアのソースコードを流用したとされる。};
\node[sub] (a44) at (1002.5,510.5) {(関与：HECAMEDE)};
\node[ann] (a45) at (656.9,508.2) {BLACKBYTE：使用するランサムウェアの類似点から関係性が指摘。};
\node[ann] (a46) at (564.4,529.2) {DIAVOL：KARAKURTと共通のインフラを使用していたとされる。};
\node[ann] (a47) at (585.6,552.3) {TOMMYLEAKS：被害組織との会話内容からKARAKURTとの関係性が指摘されており、CONTI分派であると考えられている。};
\node[annB] (a48) at (1091.3,553.2) {同一グループであると指摘。};
\node[ann] (a49) at (1347,305.6) {同時期に一部共通の被害組織をリークサイトに掲載。};
\node[ann] (a50) at (1345.2,339.5) {ランサムウェアグループと関係がある\\初期アクセスブローカーの可能性。};
\node[ann] (a51) at (1346.5,372.8) {MONTI：DONUT LEAKSの認証情報を自身の\\リークサイトに掲載。};
\node[ann] (a52) at (1346.5,399.4) {LAPSUS\$：TelegramでRANSOMHOUSEを宣伝。};
\node[ann] (a53) at (1346.5,437.3) {VICESOCIETY：\\QUANTUMランサムウェアを使用したとされる。};
\node[ann] (a54) at (1346.5,466.1) {2023年2月にハッカーフォーラムで復号鍵や\\ソースコード等が公開。};
\node[ann] (a55) at (1346.5,503.1) {SCHOOLBOYS：流出したLOCKBIT3.0ランサムウェア\\のビルダーを使用したと指摘。};
\node[ann] (a56) at (255.5,583) {HELLO KITTY (FIVE HANDS)：アフィリエイトに関係性があることが指摘。};
\node[ann] (a57) at (337,602.5) {ZEON：CONTIと非常によく似た身代金メモを生成。};
\node[ann] (a58) at (230.5,623) {VICE SOCIETY：HELLO KITTY及びZEPPELINランサムウェアの使用が指摘。};
\node[ann] (a59) at (210,647.8) {RaaSとして展開され亜種が複数存在。};
\node[ann] (a60) at (203.75,664.7) {ZEPPELIN：亜種の中でも特に目立った被害が確認されている。};
\node[ann] (a61) at (321.25,686) {ALPHV (BLACKCAT)：CONTIが攻撃の一つとして\\BLACKCATランサムウェアを使用していた可能性が指摘。};
\node[ann] (a62) at (277.5,705.6) {BLACK BASTA：CONTIの支払いサイト\&リークサイトに類似性あり。};
\node[ann] (a63) at (239.5,722.5) {CLOP：CRYPTOMIXの亜種であると指摘。};
\node[ann] (a64) at (35,714.5) {CRYPTOWALLとCRYPTXXXのコード流用が指摘。};
\node[sub] (a65) at (433.2,749) {(関与：TA505)};
\node[ann] (a66) at (145,745.2) {DEV-0950と呼ばれる攻撃者がCLOPランサムウェアを使用したと指摘。};
\node[ann] (a67) at (0.5,752.7) {したと言われている。};
\node[ann] (a68) at (102.5,781.6) {LOCKBIT：米国の制裁を回避するためにEVILCORPの\\一部メンバーがLOCKBITアフィリエイトとして活動したとされる。};
\node[ann] (a69) at (348.25,805) {CRYPTON：LOCKBIT2.0のリークサイトを模倣しているとされているが、関係性や実攻撃の証跡は確認されていない。};
\node[ann] (a70) at (0.5,814.5) {：EVILCORPが攻撃に使用したとされる。};
\node[ann] (a71) at (544.9,574.3) {ランサムウェアを使用しない恐喝グループだが、\\ランサムウェア攻撃グループへの協力が一部確認されている。};
\node[ann] (a72) at (703.1,607) {アフィリエイトに関係性があることが指摘。};
\node[ann] (a73) at (629.9,627.9) {ランサムウェアを使用せず恐喝のみを行うケースも確認されている。};
\node[ann] (a74) at (594.9,663.8) {VICESOCIETY：BLACKCATランサムウェアの使用が指摘。};
\node[ann] (a75) at (618.1,698.7) {ALPHV (BLACKCAT)：アフィリエイトが重なる可能性、同じ独自データ\\流出ツールの使用も確認。LOCKBIT等がリブランドであると指摘。};
\node[ann] (a76) at (485.2,776.2) {MACAW LOCKER：米国の制裁を回避するためにEVILCORPが使用したとされる。};
\node[sub] (a77) at (833.8,586.5) {(関与：DEV-0537)};
\node[ann] (a78) at (923.3,578.5) {初期アクセスブローカーの一部が共通している可能性。};
\node[subB] (a79) at (1111.3,633.1) {(関与：DEV-0569)};
\node[sub] (a80) at (866.3,660.3) {(関与：DEV-0832)};
\node[ann] (a81) at (923.8,659.9) {VICE SOCIETY：REDALERTランサムウェアの亜種を使用していたことが指摘。};
\node[sub] (a82) at (972.5,697.6) {(関与：NOBERUS)};
\node[ann] (a83) at (1040.3,717.2) {使用するランサムウェアに技術的な類似点が存在。};
\node[annB] (a84) at (934.2,737.5) {COREID (関与:FIN7 / CARBON SPIDER)の関与が指摘。};
\node[ann] (a85) at (1012.9,771.8) {LOCKBIT：CONTIをLOCKBIT GREENへ流用。};
\node[ann] (a86) at (992.5,831) {EVILCORPが制裁を回避するためにPHOENIX LOCKERを};
\node[ann] (a87) at (1347.7,600.3) {ROYAL：独自の暗号化ツールを使用する前は\\BLACKCATのものを使用していたとの情報あり。};
\node[ann] (a88) at (1347.7,639.8) {POLYVICE：VICE SOCIETY独自のランサムウェア\\とされる。「CHILY」や「SUNNYDAY」等のコードとの\\関係性が指摘。};
\node[ann] (a89) at (1257.7,729.6) {LOCKBIT3.0：BLACKCATとBLACKMATTERからソースコードを購入したと主張。};

% ---------- red highlight boxes ----------
\node[redbox, fit={(518.7,166.8) (797.5,186.7)}] (rb1) {};
\node[annR] (r1) at (532,179) {BABUK：2021年9月にソースコードがハッカーフォーラムでリークされた。};
\draw[ulR] (532,184.4) -- (795,184.4);
\node[redbox, fit={(409.9,191.7) (543.6,221.4)}] (rb2) {};
\node[annR, font=\bfseries\fontsize{5.8pt}{7.6pt}\selectfont] (r2) at (417,205.2) {WHITERABBIT (MARIO)：\\流出したBABUKを使用したと指摘。};
\draw[ulR] (417,215) -- (540,215);
\node[redbox, fit={(616.9,196.2) (813.5,221.4)}] (rb3) {};
\node[annR] (r3) at (622,209.3) {ASTRO LOCKER：BABUKのフォークとされている。};
\draw[ulR] (622,214.5) -- (810,214.5);
\node[redbox, fit={(780.5,53.1) (852.1,99.1)}] (rb4) {};
\node[annR] (r4) at (786.3,76.7) {ROOK：BABUKの\\コードを流用した\\と指摘。};
\draw[ulR] (786,91.5) -- (850,91.5);
\node[redbox, fit={(1223.2,104.6) (1445.7,133.9)}] (rb6) {};
\node[annR] (r6) at (1242,119.7) {CHEERS：使用するランサムウェアCHEERSCRYPTは\\BABUKのコードを元に開発されたと指摘。};
\draw[ulR] (1242,129.2) -- (1440,129.2);
\draw[ulR] (1232,106) -- (1245,129.2);
\node[redbox, fit={(1209.5,198.5) (1549.5,223.1)}] (rb7) {};
\node[annR] (r7) at (1220.2,212) {DAIXIN,NOKOYAWA,RA GROUP：流出したBABUKのソースコードを流用していると指摘。};
\draw[ulR] (1220,217) -- (1540,217);
\draw[ul] (1212,177.7) -- (1219.5,217);
\node[redbox, fit={(-5,281.1) (350,306.7)}] (rb8) {};
\node[annR] (r8) at (11.25,293.9) {CONTIはタスクの一部を外部委託するという形でHELLO KITTY、HIVE、BLACKCAT、\\AVOSLOCKER、BABUKのアフィリエイトなどの攻撃グループと連携しているという見解もある。};
\draw[ulR] (11,303.3) -- (347,303.3);
\draw[ul] (352.5,303.5) -- (380,330);
\node[redbox, fit={(945.8,579.5) (1313.3,604.5)}] (rb9) {};
\node[annR] (r9) at (956.3,594.5) {YANLUOWANG：独自のランサムウェア開発以前は、BABUKの Linux ロッカーを使用していたと指摘。};
\draw[ulR] (956,599.8) -- (1310,599.8);
\node[redbox, fit={(870.1,790.7) (1197,812.4)}] (rb10) {};
\node[annR] (r10) at (878.8,801) {BADLOCK：BABUK／LOCKBIT2.0／その他グループの技術や手口を効果的に統合し流用。};
\draw[ulR] (878,806.3) -- (1190,806.3);
\draw[ul] (547.2,215.9) -- (559,228.3);
\draw[ul] (816,216.7) -- (872.5,231.9);
\draw[ul] (855,91.5) -- (863.8,101.3);
\draw[ul] (800,182) -- (861,154.6);
% BABUK overlay
\node[draw=redB, line width=1.5mm, fill=redF, fill opacity=0.45, fit={(847.5,123.9) (918.3,169.5)}] (rb5) {};
\end{tikzpicture}
\end{document}
